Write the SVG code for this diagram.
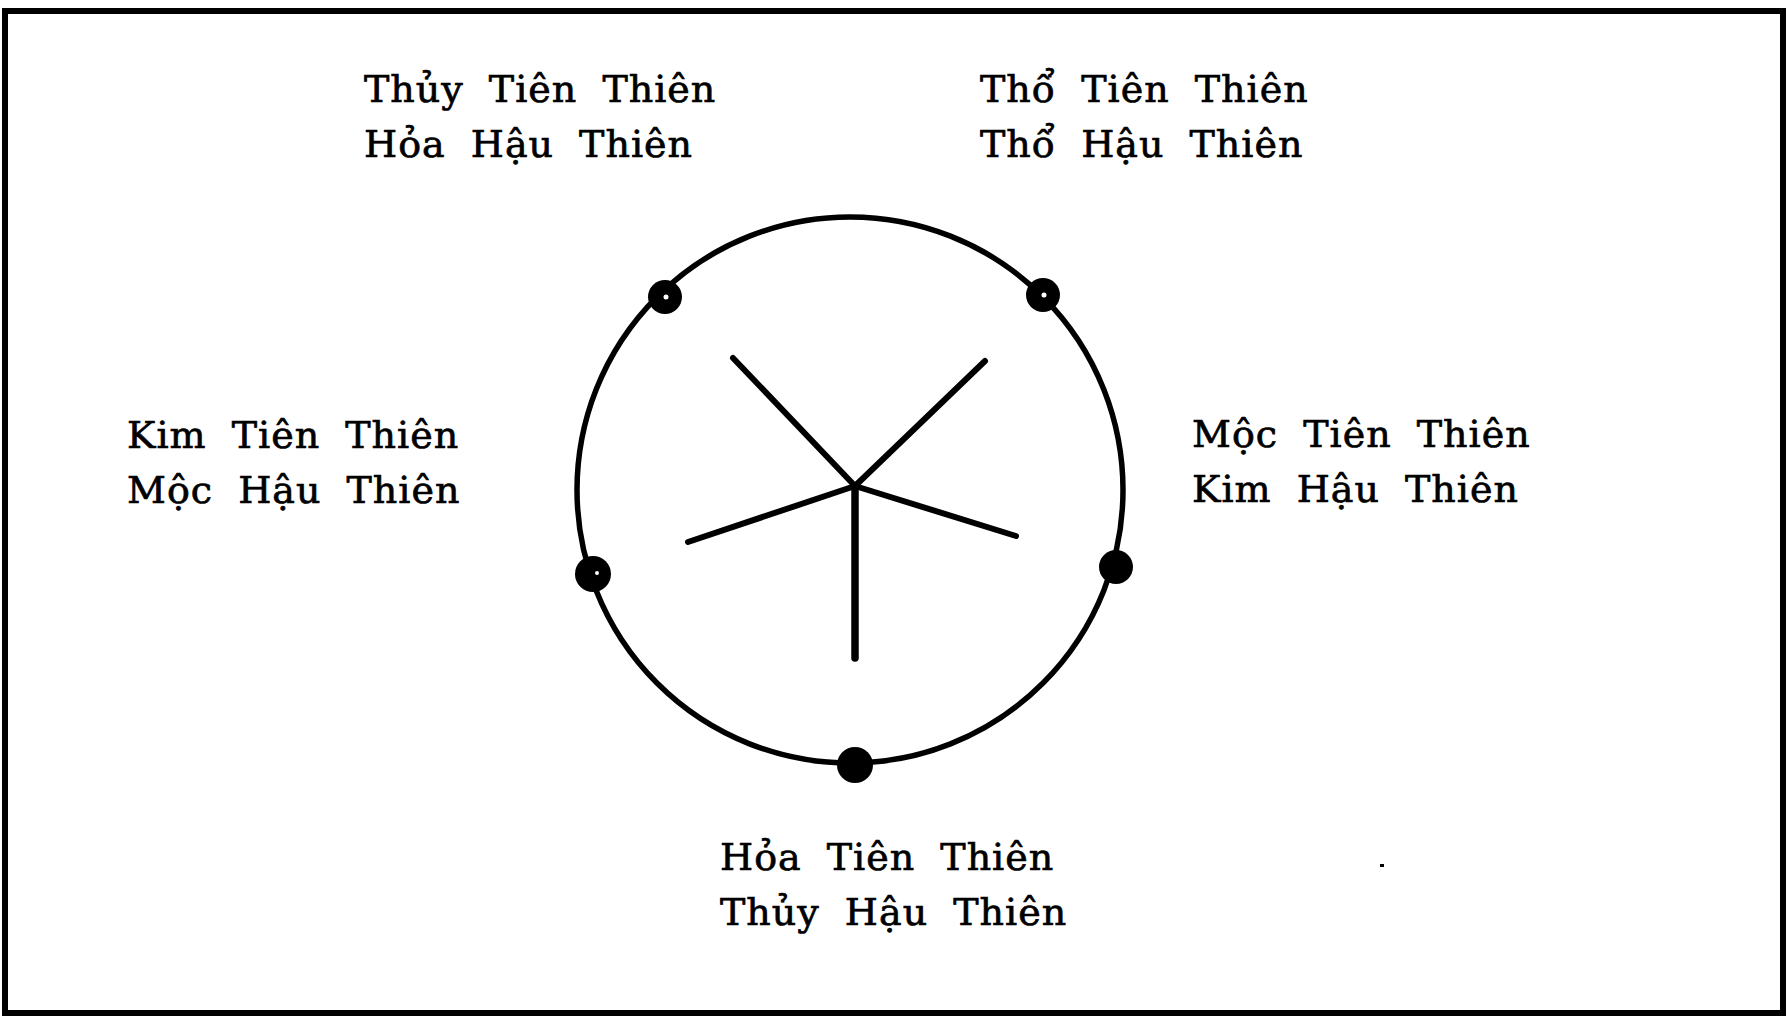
<svg xmlns="http://www.w3.org/2000/svg" width="1788" height="1019" viewBox="0 0 1788 1019">
<style>
.lbl{font-family:"DejaVu Serif","Liberation Serif",serif;font-size:38px;fill:#000;stroke:#000;stroke-width:0.7px;letter-spacing:1px;word-spacing:12px}
.ln{stroke:#000;stroke-linecap:round;fill:none}
</style>
<rect x="0" y="0" width="1788" height="1019" fill="#fff"/>
<rect id="frame" x="5" y="11" width="1778" height="1002" fill="none" stroke="#000" stroke-width="6"/>
<g id="wheel">
<circle cx="850" cy="490" r="273" fill="none" stroke="#000" stroke-width="5.5"/>
</g>
<g id="connectors">
<line class="ln" x1="855" y1="486" x2="733" y2="358" stroke-width="6"/>
<line class="ln" x1="855" y1="486" x2="985" y2="361" stroke-width="6"/>
<line class="ln" x1="855" y1="486" x2="688" y2="542" stroke-width="6"/>
<line class="ln" x1="855" y1="486" x2="1016" y2="536" stroke-width="6"/>
<line class="ln" x1="855" y1="486" x2="855" y2="658" stroke-width="7.5"/>
</g>
<g id="dot-tl"><circle cx="665" cy="297" r="17"/><circle cx="666" cy="297" r="2.5" fill="#fff"/></g>
<g id="dot-tr"><circle cx="1043" cy="295" r="17"/><circle cx="1044" cy="295" r="2.5" fill="#fff"/></g>
<g id="dot-l"><circle cx="593" cy="574" r="18"/><circle cx="597" cy="573" r="2" fill="#fff"/></g>
<g id="dot-r"><circle cx="1116" cy="567" r="17"/></g>
<g id="dot-b"><circle cx="855" cy="765" r="18"/></g>
<g id="label-tl"><text class="lbl" x="364" y="102">Thủy Tiên Thiên</text><text class="lbl" x="364" y="157">Hỏa Hậu Thiên</text></g>
<g id="label-tr"><text class="lbl" x="980" y="102">Thổ Tiên Thiên</text><text class="lbl" x="980" y="157">Thổ Hậu Thiên</text></g>
<g id="label-l"><text class="lbl" x="127" y="448">Kim Tiên Thiên</text><text class="lbl" x="127" y="503">Mộc Hậu Thiên</text></g>
<g id="label-r"><text class="lbl" x="1192" y="447">Mộc Tiên Thiên</text><text class="lbl" x="1192" y="502">Kim Hậu Thiên</text></g>
<g id="label-b"><text class="lbl" x="720" y="870">Hỏa Tiên Thiên</text><text class="lbl" x="720" y="925">Thủy Hậu Thiên</text></g>
<rect x="1380" y="864" width="4" height="3" fill="#000"/>
</svg>
